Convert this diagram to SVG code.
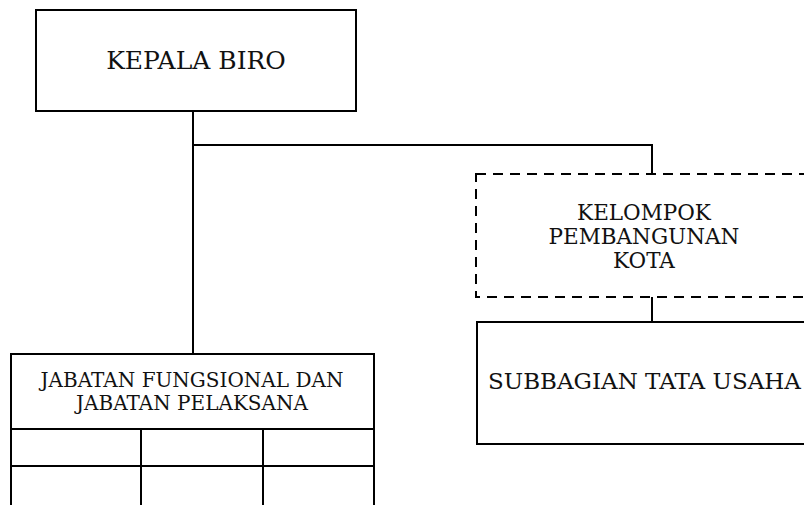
<svg xmlns="http://www.w3.org/2000/svg" width="804" height="505" viewBox="0 0 804 505">
<style>
.box{fill:#fff;stroke:#000;stroke-width:2}
.dash{fill:#fff;stroke:#000;stroke-width:2;stroke-dasharray:10 7}
.ln{fill:none;stroke:#000;stroke-width:2}
text{font-family:"DejaVu Serif","Liberation Serif",serif;fill:#111;text-anchor:middle}
</style>
<rect width="804" height="505" fill="#fff"/>
<g id="connectors">
<line class="ln" x1="193" y1="111" x2="193" y2="354"/>
<polyline class="ln" points="193,145 652,145 652,174"/>
<line class="ln" x1="652" y1="297" x2="652" y2="322"/>
</g>
<g id="kepala-biro">
<rect class="box" x="36" y="10" width="320" height="101"/>
<text x="196" y="69" font-size="25">KEPALA BIRO</text>
</g>
<g id="kelompok">
<rect class="dash" x="476" y="174" width="340" height="123"/>
<text font-size="21.5"><tspan x="644" y="220">KELOMPOK</tspan><tspan x="644" y="244">PEMBANGUNAN</tspan><tspan x="644" y="268">KOTA</tspan></text>
</g>
<g id="subbagian">
<rect class="box" x="477" y="322" width="340" height="122"/>
<text x="644.5" y="389" font-size="23">SUBBAGIAN TATA USAHA</text>
</g>
<g id="jabatan">
<rect class="box" x="11" y="354" width="363" height="160"/>
<line class="ln" x1="11" y1="429" x2="374" y2="429"/>
<line class="ln" x1="11" y1="466" x2="374" y2="466"/>
<line class="ln" x1="141" y1="429" x2="141" y2="510"/>
<line class="ln" x1="263" y1="429" x2="263" y2="510"/>
<text font-size="20"><tspan x="192" y="387">JABATAN FUNGSIONAL DAN</tspan><tspan x="192" y="410">JABATAN PELAKSANA</tspan></text>
</g>
</svg>
